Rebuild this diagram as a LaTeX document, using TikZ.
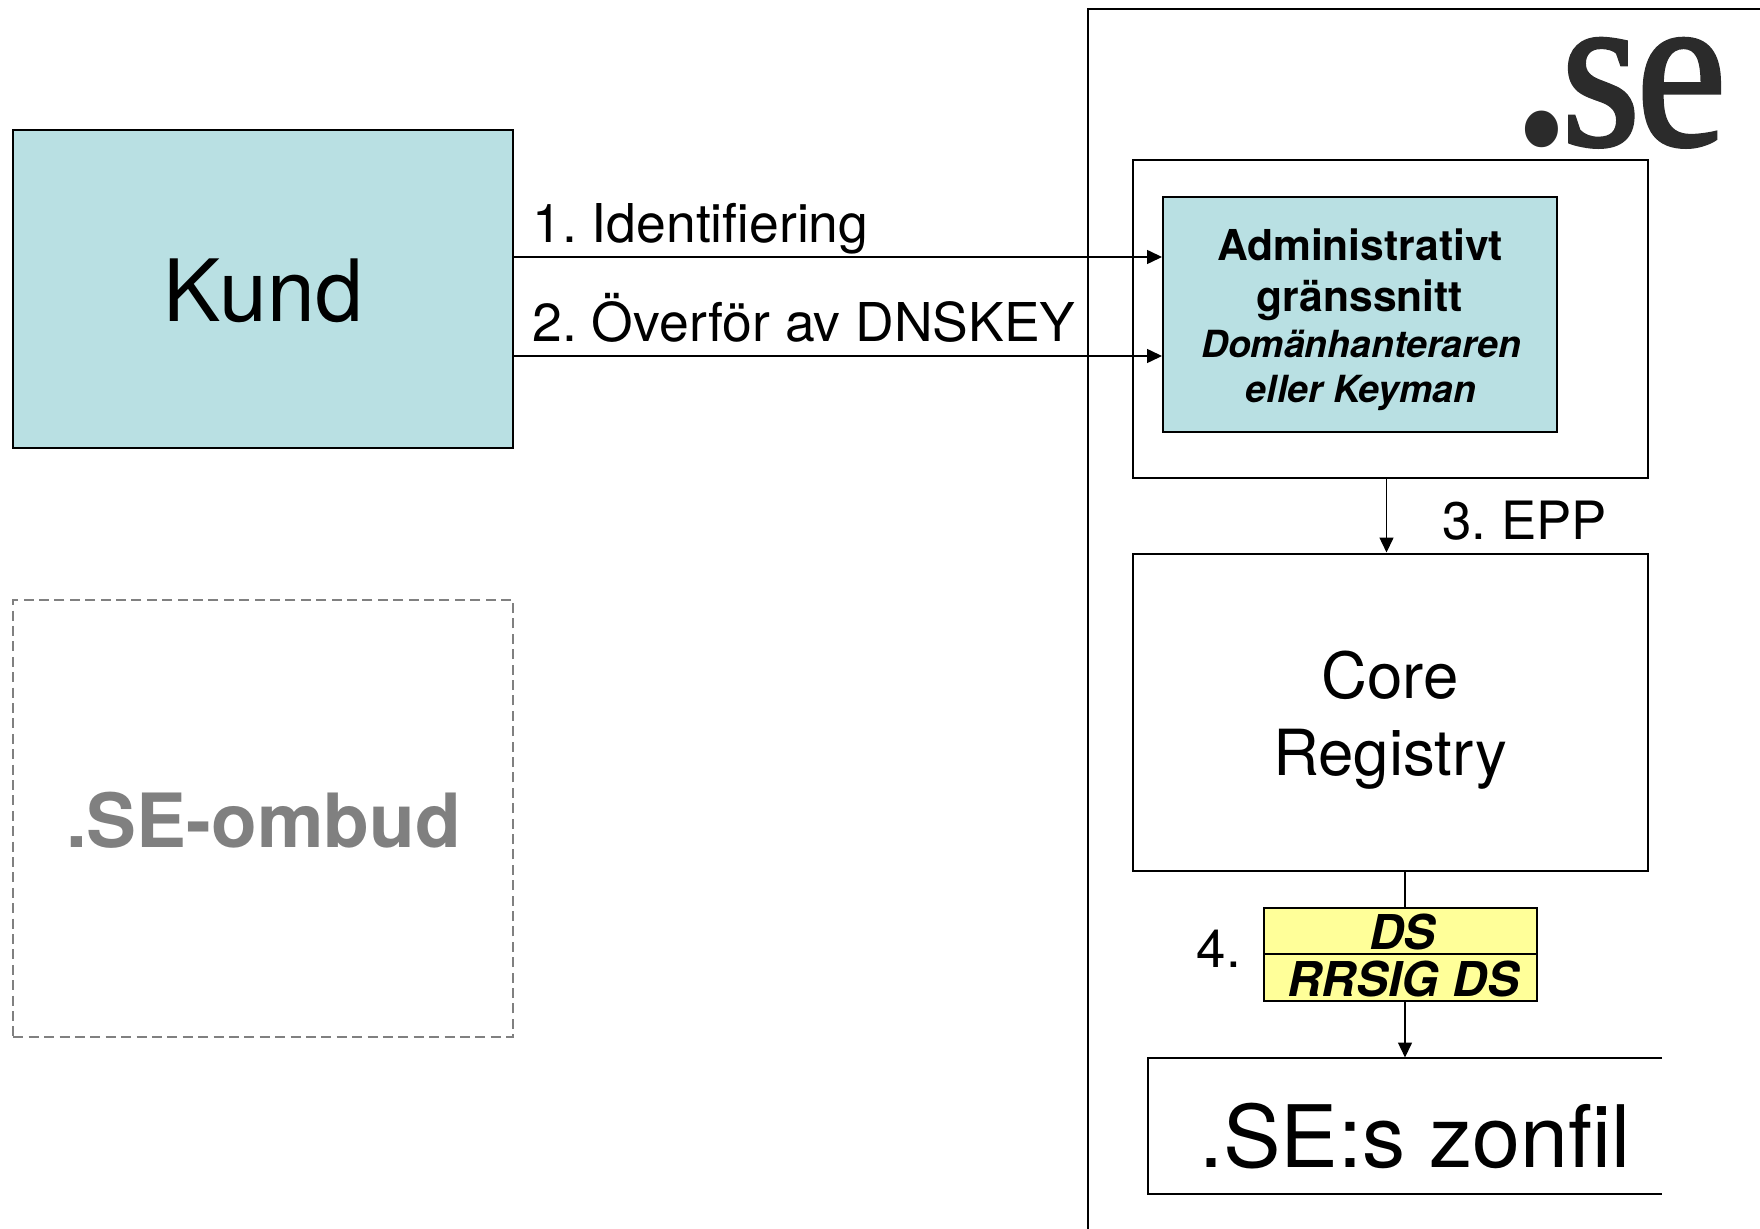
\documentclass[tikz,border=0pt]{standalone}
\usepackage{fontspec}
\usepackage{graphicx}
\setmainfont{TeX Gyre Heros}
\newfontfamily\logofont[FakeBold=1.6]{Liberation Serif}
\newfontfamily\logodot{Liberation Serif Bold}
\usetikzlibrary{arrows.meta}
\definecolor{tealfill}{HTML}{B9E0E3}
\definecolor{yellowfill}{HTML}{FFFF99}
\definecolor{ombudgrey}{HTML}{808080}
\definecolor{logoink}{HTML}{2B2B2B}
\tikzset{
  boxline/.style={draw=black,line width=1pt,inner sep=0pt,rectangle},
  wire/.style={draw=black,line width=.75pt},
  arrowwire/.style={wire,-{Triangle[length=7.5pt,width=7pt]}},
  lbl/.style={inner sep=0pt,anchor=base},
  lbll/.style={inner sep=0pt,anchor=base west},
}
\newcommand{\fsz}[1]{\fontsize{#1}{#1}\selectfont}
\AtBeginDocument{\frenchspacing}
\begin{document}
\begin{tikzpicture}[x=0.5pt,y=-0.5pt]
\useasboundingbox (0,0) rectangle (1760,1229);
% frame
\coordinate (frameTR) at (1760,9);
\coordinate (frameTL) at (1087.5,9);
\coordinate (frameBL) at (1087.5,1229);
\draw[line width=1pt] (frameTR) -- (frameTL) -- (frameBL);
% boxes
\node[boxline,fill=tealfill,minimum width=250pt,minimum height=159pt] (kund) at (263,289) {};
\node[draw=ombudgrey,line width=1pt,dashed,dash pattern=on 5pt off 2.7pt,inner sep=0pt,minimum width=250pt,minimum height=218.5pt] (ombud) at (263.3,818.5) {};
\node[boxline,minimum width=257.5pt,minimum height=158.75pt] (outer) at (1390,319.25) {};
\node[boxline,fill=tealfill,minimum width=197pt,minimum height=117.75pt] (admin) at (1360,314.5) {};
\node[boxline,minimum width=257.5pt,minimum height=158.75pt] (core) at (1390,712.25) {};
\node[boxline,fill=yellowfill,minimum width=136.5pt,minimum height=23.15pt] (ds) at (1400.5,931) {};
\node[boxline,fill=yellowfill,minimum width=136.5pt,minimum height=23.5pt] (rrsig) at (1400.5,977.5) {};
% zone file: open on the right
\coordinate (zoneTR) at (1662,1057.5);
\coordinate (zoneTL) at (1148,1057.5);
\coordinate (zoneBL) at (1148,1194);
\coordinate (zoneBR) at (1662,1194);
\draw[line width=1pt] (zoneTR) -- (zoneTL) -- (zoneBL) -- (zoneBR);
% connectors
\coordinate (a1) at (1163,257);
\coordinate (a2) at (1163,356);
\coordinate (a3) at (1386.5,478);
\coordinate (a4) at (1405,871);
\draw[arrowwire] (kund.east |- a1) -- (admin.west |- a1);
\draw[arrowwire] (kund.east |- a2) -- (admin.west |- a2);
\draw[arrowwire] (outer.south -| a3) -- (core.north -| a3);
\draw[wire] (core.south -| a4) -- (ds.north -| a4);
\draw[arrowwire] (rrsig.south -| a4) -- (zoneTL -| a4);
% text
\node[lbl,font=\fsz{43}] (tkund) at (263.5,321.5) {Kund};
\node[lbll,font=\fsz{26.75}] (t1) at (532,243) {1. Identifiering};
\node[lbll,font=\fsz{26.75}] (t2) at (532,342) {2. Överför av DNSKEY};
\node[lbl,font=\fsz{37.4}\bfseries,text=ombudgrey] (tombud) at (263.5,847.5) {.SE-ombud};
\node[lbll,font=\fsz{113},text=logoink] (logo) at (1516,145) {\scalebox{.9}[1]{{\logodot.}\kern-.03em{\logofont s\kern-.02em e}}};
\node[lbl,font=\fsz{21.3}\bfseries] (ta1) at (1360,261) {Administrativt};
\node[lbl,font=\fsz{21.3}\bfseries] (ta2) at (1360,312) {gränssnitt};
\node[lbl,font=\fsz{18.7}\bfseries\itshape] (ta3) at (1361,358) {Domänhanteraren};
\node[lbl,font=\fsz{18.7}\bfseries\itshape] (ta4) at (1361,403) {eller Keyman};
\node[lbll,font=\fsz{26.4}] (t3) at (1442,539) {3. EPP};
\node[lbl,font=\fsz{31.8}] (tc1) at (1390,698.5) {Core};
\node[lbl,font=\fsz{31.8}] (tc2) at (1390,775) {Registry};
\node[lbll,font=\fsz{26.4}] (t4) at (1196.5,967.5) {4.};
\node[lbl,font=\fsz{24}\bfseries\itshape] (tds) at (1402.5,949.5) {DS};
\node[lbl,font=\fsz{24}\bfseries\itshape] (trr) at (1403,996.5) {RRSIG DS};
\node[lbll,font=\fsz{43.1}] (tz) at (1199,1167) {.SE:s zonfil};
\end{tikzpicture}
\end{document}
